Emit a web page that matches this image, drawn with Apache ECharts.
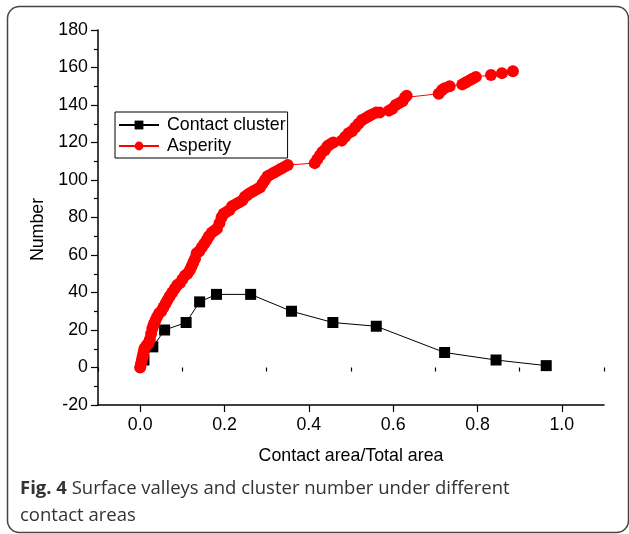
<!DOCTYPE html>
<html>
<head>
<meta charset="utf-8">
<script src="https://cdn.jsdelivr.net/npm/echarts@6/dist/echarts.min.js"></script>
<style>
html,body{margin:0;padding:0;background:#fff;}
#c{width:629px;height:534px;}
</style>
</head>
<body>
<div id="c"></div>
<script>
// ---- data ----
const clusterX = [0.009, 0.030, 0.058, 0.109, 0.141, 0.181, 0.262, 0.359, 0.457, 0.560, 0.722, 0.844, 0.963];
const clusterY = [4, 11, 20, 24, 35, 39, 39, 30, 24, 22, 8, 4, 1];

const asperityX = [0.000,0.002,0.004,0.006,0.008,0.010,0.013,0.016,0.020,0.023,0.026,0.029,0.032,0.036,0.040,0.045,0.050,0.055,0.060,0.065,0.070,0.076,0.082,0.088,0.094,0.100,0.106,0.112,0.118,0.122,0.126,0.130,0.134,0.140,0.146,0.152,0.158,0.163,0.170,0.176,0.182,0.188,0.193,0.198,0.205,0.212,0.218,0.226,0.234,0.242,0.248,0.254,0.260,0.268,0.276,0.284,0.290,0.296,0.302,0.310,0.318,0.326,0.334,0.342,0.350,0.414,0.420,0.426,0.432,0.438,0.444,0.450,0.458,0.478,0.486,0.494,0.502,0.510,0.518,0.526,0.534,0.542,0.550,0.560,0.568,0.590,0.598,0.606,0.614,0.622,0.628,0.632,0.708,0.716,0.722,0.734,0.764,0.772,0.780,0.788,0.796,0.832,0.858,0.884];
const asperityY = [0,2,4,6,8,10,11,12,13,15,18,21,23,25,27,29,30,32,34,36,38,40,42,44,45,47,49,50,52,54,56,58,61,62,64,66,68,70,72,73,74,77,80,82,83,84,86,87,88,89,91,92,93,94,95,96,98,100,102,103,104,105,106,107,108,109,111,113,115,116,118,119,120,121,123,125,126,128,130,132,133,134,135,136,136,137,138,140,141,142,144,145,146,148,149,150,151,152,153,154,155,156,157,158];

const xMajorTicks = [0, 0.2, 0.4, 0.6, 0.8, 1.0];
const xMinorTicks = [-0.1, 0.1, 0.3, 0.5, 0.7, 0.9, 1.1];
const yTickMin = -20, yTickMax = 180, yTickStep = 20;

const seriesNames = ['Contact cluster', 'Asperity'];
const xTitle = 'Contact area/Total area';
const yTitle = 'Number';
const captionBold = 'Fig. 4';
const captionLine1 = ' Surface valleys and cluster number under different';
const captionLine2 = 'contact areas';

// ---- chart ----
const zip = (xs, ys) => xs.map((x, i) => [x, ys[i]]);
const font = 'Liberation Sans, Arial, sans-serif';
const fs = 17.8;
const chart = echarts.init(document.getElementById('c'), null, {renderer: 'canvas'});

chart.setOption({
  animation: false,
  backgroundColor: '#fff',
  grid: {left: 98, right: 25, top: 30, bottom: 129, containLabel: false},
  legend: {
    orient: 'vertical',
    left: 115, top: 112,
    data: seriesNames,
    borderColor: '#000', borderWidth: 1,
    padding: [4, 2, 3, 3],
    itemWidth: 40, itemHeight: 11, itemGap: 3,
    textStyle: {fontFamily: font, fontSize: fs, color: '#000', padding: [0, 0, 0, 3]}
  },
  xAxis: [{
    type: 'value', min: -0.1, max: 1.1, position: 'bottom',
    name: xTitle, nameLocation: 'middle', nameGap: 42,
    nameTextStyle: {fontFamily: font, fontSize: fs, color: '#000'},
    axisLine: {show: true, onZero: false, lineStyle: {color: '#000', width: 1.5}},
    axisTick: {show: true, customValues: xMajorTicks, length: 7, lineStyle: {color: '#000', width: 1.2}},
    axisLabel: {customValues: xMajorTicks, formatter: v => Number(v).toFixed(1), margin: 11,
      fontFamily: font, fontSize: fs, color: '#000'},
    splitLine: {show: false}
  }, {
    type: 'value', min: -0.1, max: 1.1, position: 'bottom',
    axisLine: {show: false},
    axisTick: {show: true, customValues: xMinorTicks, length: 4, lineStyle: {color: '#000', width: 1.2}},
    axisLabel: {show: false},
    splitLine: {show: false}
  }],
  yAxis: {
    type: 'value', min: yTickMin, max: yTickMax, interval: yTickStep,
    name: yTitle, nameLocation: 'middle', nameGap: 50, nameRotate: 90,
    nameTextStyle: {fontFamily: font, fontSize: fs, color: '#000', padding: [0, 24, 0, 0]},
    axisLine: {show: true, onZero: false, lineStyle: {color: '#000', width: 1.5}},
    axisTick: {show: true, length: 7, lineStyle: {color: '#000', width: 1.2}},
    minorTick: {show: true, splitNumber: 2, length: 4, lineStyle: {color: '#000', width: 1.2}},
    axisLabel: {margin: 10, fontFamily: font, fontSize: fs, color: '#000'},
    splitLine: {show: false}
  },
  series: [{
    name: seriesNames[0], type: 'line',
    data: zip(clusterX, clusterY),
    symbol: 'rect', symbolSize: 11,
    itemStyle: {color: '#000'},
    lineStyle: {color: '#000', width: 1},
    z: 2
  }, {
    name: seriesNames[1], type: 'line',
    data: zip(asperityX, asperityY),
    symbol: 'circle', symbolSize: 12,
    itemStyle: {color: '#ff0000'},
    lineStyle: {color: '#ff0000', width: 1},
    z: 3
  }],
  graphic: [{
    type: 'rect', left: 5, top: 4, z: -1,
    shape: {width: 621, height: 526, r: 12},
    style: {fill: 'none', stroke: '#444', lineWidth: 1.5}
  }, {
    type: 'text', left: 20, top: 479,
    style: {
      text: '{b|' + captionBold + '}{n|' + captionLine1 + '}\n{n|' + captionLine2 + '}',
      rich: {
        b: {fontFamily: 'Open Sans, sans-serif', fontWeight: 'bold', fontSize: 18.5, fill: '#333', lineHeight: 27},
        n: {fontFamily: 'Open Sans, sans-serif', fontSize: 18.5, fill: '#333', lineHeight: 27}
      }
    }
  }]
});
</script>
</body>
</html>
